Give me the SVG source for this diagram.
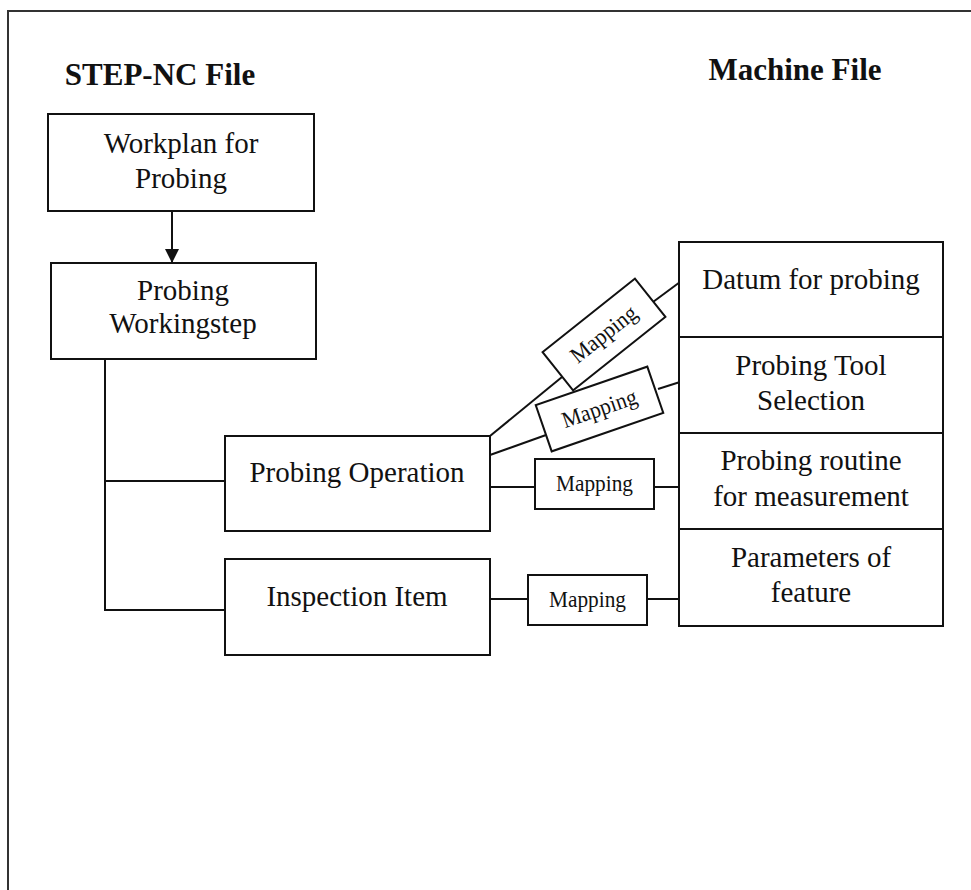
<svg xmlns="http://www.w3.org/2000/svg" width="971" height="890" viewBox="0 0 971 890">
<defs>
<style>
.box{fill:#fff;stroke:#111;stroke-width:2}
.ln{fill:none;stroke:#111;stroke-width:2}
.t{font-family:"Liberation Serif","Times New Roman",serif;font-size:29px;fill:#111;text-anchor:middle}
.h{font-family:"Liberation Serif","Times New Roman",serif;font-size:31px;font-weight:bold;fill:#111;text-anchor:middle}
.m{font-family:"Liberation Serif","Times New Roman",serif;font-size:23px;fill:#111;text-anchor:middle}
</style>
<marker id="arr" markerWidth="14" markerHeight="16" refX="13" refY="7" orient="auto" markerUnits="userSpaceOnUse">
<path d="M0,0 L14,7 L0,14 Z" fill="#111"/>
</marker>
</defs>
<rect x="0" y="0" width="971" height="890" fill="#fff"/>
<rect x="8" y="11" width="980" height="900" fill="none" stroke="#333" stroke-width="2"/>
<text class="h" x="160" y="85">STEP-NC File</text>
<text class="h" x="795" y="80">Machine File</text>

<g id="connectors">
<line class="ln" x1="172" y1="211" x2="172" y2="262" marker-end="url(#arr)"/>
<polyline class="ln" points="105,359 105,610 225,610"/>
<line class="ln" x1="105" y1="481" x2="225" y2="481"/>
<line class="ln" x1="490" y1="436" x2="562" y2="377"/>
<line class="ln" x1="653" y1="302" x2="680" y2="282"/>
<line class="ln" x1="490" y1="455" x2="546" y2="435"/>
<line class="ln" x1="658" y1="389" x2="680" y2="382"/>
<line class="ln" x1="490" y1="487" x2="535" y2="487"/>
<line class="ln" x1="654" y1="487" x2="680" y2="487"/>
<line class="ln" x1="490" y1="599" x2="528" y2="599"/>
<line class="ln" x1="647" y1="599" x2="680" y2="599"/>
</g>

<g id="workplan">
<rect class="box" x="48" y="114" width="266" height="97"/>
<text class="t" x="181" y="153">Workplan for</text>
<text class="t" x="181" y="188">Probing</text>
</g>
<g id="workingstep">
<rect class="box" x="51" y="263" width="265" height="96"/>
<text class="t" x="183" y="300">Probing</text>
<text class="t" x="183" y="333">Workingstep</text>
</g>
<g id="probing-operation">
<rect class="box" x="225" y="436" width="265" height="95"/>
<text class="t" x="357" y="482">Probing Operation</text>
</g>
<g id="inspection-item">
<rect class="box" x="225" y="559" width="265" height="96"/>
<text class="t" x="357" y="606">Inspection Item</text>
</g>

<g id="mapping-1">
<g transform="translate(604,334.5) rotate(-38.5)">
<rect class="box" x="-59" y="-24.5" width="118" height="49"/>
<text class="m" x="0" y="7" textLength="78" lengthAdjust="spacingAndGlyphs">Mapping</text>
</g>
</g>
<g id="mapping-2">
<g transform="translate(599.5,409) rotate(-19)">
<rect class="box" x="-59" y="-24.5" width="118" height="49"/>
<text class="m" x="0" y="7" textLength="78" lengthAdjust="spacingAndGlyphs">Mapping</text>
</g>
</g>
<g id="mapping-3">
<rect class="box" x="535" y="459" width="119" height="50"/>
<text class="m" x="594.5" y="491" textLength="77" lengthAdjust="spacingAndGlyphs">Mapping</text>
</g>
<g id="mapping-4">
<rect class="box" x="528" y="575" width="119" height="50"/>
<text class="m" x="587.5" y="607" textLength="77" lengthAdjust="spacingAndGlyphs">Mapping</text>
</g>

<g id="datum">
<rect class="box" x="679" y="242" width="264" height="95"/>
<text class="t" x="811" y="289">Datum for probing</text>
</g>
<g id="tool-selection">
<rect class="box" x="679" y="337" width="264" height="96"/>
<text class="t" x="811" y="375">Probing Tool</text>
<text class="t" x="811" y="410">Selection</text>
</g>
<g id="routine">
<rect class="box" x="679" y="433" width="264" height="96"/>
<text class="t" x="811" y="470">Probing routine</text>
<text class="t" x="811" y="506">for measurement</text>
</g>
<g id="parameters">
<rect class="box" x="679" y="529" width="264" height="97"/>
<text class="t" x="811" y="567">Parameters of</text>
<text class="t" x="811" y="602">feature</text>
</g>
</svg>
